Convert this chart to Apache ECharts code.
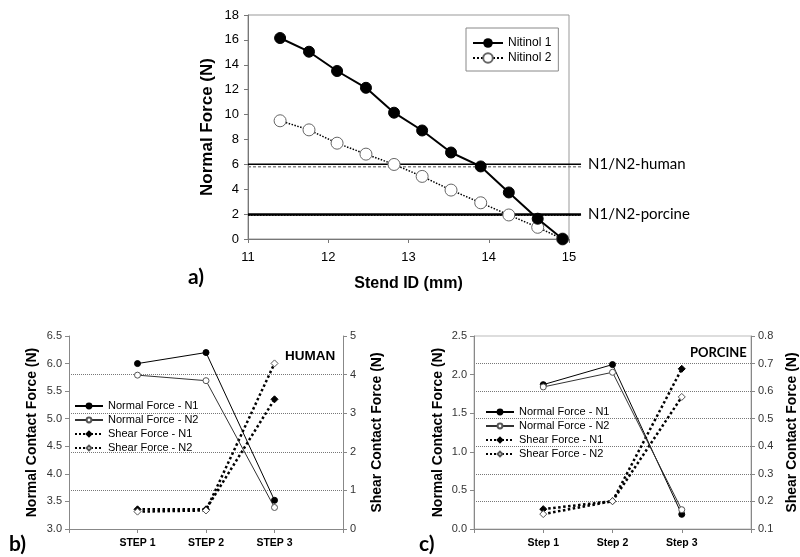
<!DOCTYPE html>
<html><head><meta charset="utf-8">
<script src="https://cdn.jsdelivr.net/npm/echarts@6/dist/echarts.min.js"></script>
<style>html,body{margin:0;padding:0;background:#fff}#c{width:800px;height:557px}</style>
</head><body><div id="c"></div>
<script>
// ---------- Panel a ----------
const stentID = [11.4, 11.76, 12.11, 12.47, 12.82, 13.17, 13.53, 13.9, 14.25, 14.61, 14.92];
const nitinol1 = [16.15, 15.05, 13.5, 12.15, 10.15, 8.72, 6.95, 5.83, 3.74, 1.63, 0];
const nitinol2 = [9.5, 8.77, 7.7, 6.82, 5.99, 5.03, 3.93, 2.91, 1.93, 0.94, 0];
const refHuman = [6.0, 5.8];
const refPorcine = [1.97, 1.9];
const refLabels = ['N1/N2-human', 'N1/N2-porcine'];
const refXStart = 11;
const refXEnd = 15.15;
// ---------- Panels b and c ----------
const stepsHuman = ['', 'STEP 1', 'STEP 2', 'STEP 3', ''];
const stepsPorcine = ['', 'Step 1', 'Step 2', 'Step 3', ''];
const humanNormalN1 = [null, 6.0, 6.2, 3.52, null];
const humanNormalN2 = [null, 5.79, 5.69, 3.39, null];
const humanShearN1 = [null, 0.51, 0.51, 3.36, null];
const humanShearN2 = [null, 0.45, 0.48, 4.29, null];
const porcineNormalN1 = [null, 1.87, 2.13, 0.19, null];
const porcineNormalN2 = [null, 1.84, 2.03, 0.25, null];
const porcineShearN1 = [null, 0.172, 0.201, 0.681, null];
const porcineShearN2 = [null, 0.154, 0.201, 0.579, null];
const legendNames = ['Normal Force - N1', 'Normal Force - N2', 'Shear Force - N1', 'Shear Force - N2'];

const AR = 'Liberation Sans, Arial, sans-serif';
const CAL = 'Lato, sans-serif';
const pair = (xs, ys) => xs.map((x, i) => [x, ys[i]]);

function stepSeries(xi, yi, name, vals, kind) {
  const normal = kind[0] === 'n';
  const filled = kind[1] === '1';
  return {
    type: 'line', name, xAxisIndex: xi, yAxisIndex: yi, data: vals,
    symbol: normal ? 'circle' : 'diamond', symbolSize: normal ? 6 : 7,
    lineStyle: normal ? { color: filled ? '#000' : '#333', width: 1 } : { color: '#000', width: 2.5, type: 'dotted' },
    itemStyle: filled ? { color: '#000', borderColor: '#000', borderWidth: 1 } : { color: '#fff', borderColor: '#555', borderWidth: 1 },
    z: normal ? 3 : 2
  };
}

const leftValAxis = (gi, min, max, iv, name, gap) => ({
  type: 'value', gridIndex: gi, min, max, interval: iv, position: 'left',
  axisLine: { show: true, lineStyle: { color: '#888' } },
  axisTick: { show: true, length: 4, lineStyle: { color: '#888' } },
  axisLabel: { fontFamily: AR, fontSize: 11, color: '#333', margin: 7, formatter: v => v.toFixed(1) },
  splitLine: { show: false },
  name, nameLocation: 'middle', nameRotate: 90, nameGap: gap,
  nameTextStyle: { fontFamily: AR, fontSize: 14, fontWeight: 'bold', color: '#000' }
});
const rightValAxis = (gi, min, max, iv, dec, name, gap) => ({
  type: 'value', gridIndex: gi, min, max, interval: iv, position: 'right',
  axisLine: { show: true, lineStyle: { color: '#888' } },
  axisTick: { show: true, length: 4, lineStyle: { color: '#888' } },
  axisLabel: { fontFamily: AR, fontSize: 11, color: '#333', margin: 7, formatter: v => v.toFixed(dec) },
  splitLine: { show: true, showMinLine: false, showMaxLine: false, lineStyle: { color: '#777', type: 'dotted', width: 1 } },
  name, nameLocation: 'middle', nameRotate: 90, nameGap: gap,
  nameTextStyle: { fontFamily: AR, fontSize: 14, fontWeight: 'bold', color: '#000' }
});
const catAxis = (gi, data) => ({
  type: 'category', gridIndex: gi, data, boundaryGap: false,
  axisLine: { show: true, lineStyle: { color: '#888' } },
  axisTick: { show: true, length: 4, interval: 0, lineStyle: { color: '#888' } },
  axisLabel: { interval: 0, fontFamily: AR, fontSize: 10.5, fontWeight: 'bold', color: '#000', margin: 9 },
  splitLine: { show: false }
});
const stepLegend = (left, top) => ({
  orient: 'vertical', left, top, data: legendNames, selectedMode: false,
  itemWidth: 28, itemHeight: 6, itemGap: 2, padding: 0,
  textStyle: { fontFamily: AR, fontSize: 11, color: '#000', lineHeight: 12 }
});

const chart = echarts.init(document.getElementById('c'), null, { renderer: 'canvas' });
chart.setOption({
  animation: false,
  backgroundColor: '#fff',
  title: [
    { text: 'a)', left: 183, top: 262, textStyle: { fontFamily: CAL, fontSize: 21, fontWeight: 'bold', color: '#000' } },
    { text: 'b)', left: 4, top: 529, textStyle: { fontFamily: CAL, fontSize: 21, fontWeight: 'bold', color: '#000' } },
    { text: 'c)', left: 414, top: 529, textStyle: { fontFamily: CAL, fontSize: 21, fontWeight: 'bold', color: '#000' } },
    { text: 'HUMAN', left: 280, top: 344, textStyle: { fontFamily: AR, fontSize: 13.5, fontWeight: 'bold', color: '#000' } },
    { text: 'PORCINE', left: 685, top: 341, textStyle: { fontFamily: CAL, fontSize: 13, fontWeight: 'bold', color: '#000' } }
  ],
  grid: [
    { left: 248, top: 15, width: 321, height: 224, show: true, borderColor: '#999', borderWidth: 1 },
    { left: 69, top: 336, width: 274, height: 193 },
    { left: 474, top: 336, width: 278, height: 193, show: true, borderColor: '#bbb', borderWidth: 1 }
  ],
  legend: [
    { orient: 'vertical', left: 466, top: 28, data: ['Nitinol 1', 'Nitinol 2'], selectedMode: false,
      itemWidth: 30, itemHeight: 12, itemGap: 3, padding: [9, 7, 7, 6],
      borderColor: '#888', borderWidth: 1,
      textStyle: { fontFamily: AR, fontSize: 12, color: '#000' } },
    stepLegend(74, 400),
    stepLegend(485, 406)
  ],
  xAxis: [
    { type: 'value', gridIndex: 0, min: 11, max: 15, interval: 1,
      axisLine: { show: true, lineStyle: { color: '#777' } },
      axisTick: { show: true, length: 4, lineStyle: { color: '#777' } },
      axisLabel: { fontFamily: AR, fontSize: 13, color: '#000', margin: 12 },
      splitLine: { show: false },
      name: 'Stend ID (mm)', nameLocation: 'middle', nameGap: 37,
      nameTextStyle: { fontFamily: AR, fontSize: 16, fontWeight: 'bold', color: '#000' } },
    catAxis(1, stepsHuman),
    catAxis(2, stepsPorcine)
  ],
  yAxis: [
    { type: 'value', gridIndex: 0, min: 0, max: 18, interval: 2,
      axisLine: { show: true, lineStyle: { color: '#777' } },
      axisTick: { show: true, length: 4, lineStyle: { color: '#777' } },
      axisLabel: { fontFamily: AR, fontSize: 13, color: '#000', margin: 9 },
      splitLine: { show: false },
      name: 'Normal Force (N)', nameLocation: 'middle', nameRotate: 90, nameGap: 32,
      nameTextStyle: { fontFamily: AR, fontSize: 17, fontWeight: 'bold', color: '#000' } },
    leftValAxis(1, 3, 6.5, 0.5, 'Normal Contact Force (N)', 30),
    rightValAxis(1, 0, 5, 1, 0, 'Shear Contact Force (N)', 27),
    leftValAxis(2, 0, 2.5, 0.5, 'Normal Contact Force (N)', 29),
    rightValAxis(2, 0.1, 0.8, 0.1, 1, 'Shear Contact Force (N)', 34)
  ],
  series: [
    { type: 'line', name: 'Nitinol 2', xAxisIndex: 0, yAxisIndex: 0, data: pair(stentID, nitinol2),
      symbol: 'circle', symbolSize: 12, lineStyle: { color: '#000', width: 1.5, type: 'dotted' },
      itemStyle: { color: '#fff', borderColor: '#666', borderWidth: 1 }, z: 3 },
    { type: 'line', name: 'Nitinol 1', xAxisIndex: 0, yAxisIndex: 0, data: pair(stentID, nitinol1),
      symbol: 'circle', symbolSize: 11, lineStyle: { color: '#000', width: 2 },
      itemStyle: { color: '#000', borderColor: '#000' }, z: 4 },
    stepSeries(1, 1, legendNames[0], humanNormalN1, 'n1'),
    stepSeries(1, 1, legendNames[1], humanNormalN2, 'n2'),
    stepSeries(1, 2, legendNames[2], humanShearN1, 's1'),
    stepSeries(1, 2, legendNames[3], humanShearN2, 's2'),
    stepSeries(2, 3, legendNames[0], porcineNormalN1, 'n1'),
    stepSeries(2, 3, legendNames[1], porcineNormalN2, 'n2'),
    stepSeries(2, 4, legendNames[2], porcineShearN1, 's1'),
    stepSeries(2, 4, legendNames[3], porcineShearN2, 's2')
  ]
});

// Reference lines in panel a, positioned through the axes' own scales
const px = v => chart.convertToPixel({ xAxisIndex: 0 }, v);
const py = v => chart.convertToPixel({ yAxisIndex: 0 }, v);
const x0 = px(refXStart), x1 = px(refXEnd);
const hline = (v, style) => ({ type: 'line', z: 1, silent: true,
  shape: { x1: x0, y1: py(v), x2: x1, y2: py(v) }, style });
const refLabel = (txt, v) => ({ type: 'text', z: 5, silent: true, x: x1 + 7, y: py(v),
  style: { text: txt, fill: '#000', font: '15px ' + CAL, verticalAlign: 'middle', textAlign: 'left' } });
chart.setOption({
  graphic: [
    hline(refHuman[1], { stroke: '#888', lineWidth: 1.5, lineDash: [3, 2] }),
    hline(refHuman[0], { stroke: '#000', lineWidth: 1.5 }),
    hline(refPorcine[1], { stroke: '#222', lineWidth: 1.5, lineDash: [1.5, 1.5] }),
    hline(refPorcine[0], { stroke: '#000', lineWidth: 2.5 }),
    refLabel(refLabels[0], refHuman[0]),
    refLabel(refLabels[1], refPorcine[0])
  ]
});
</script></body></html>
